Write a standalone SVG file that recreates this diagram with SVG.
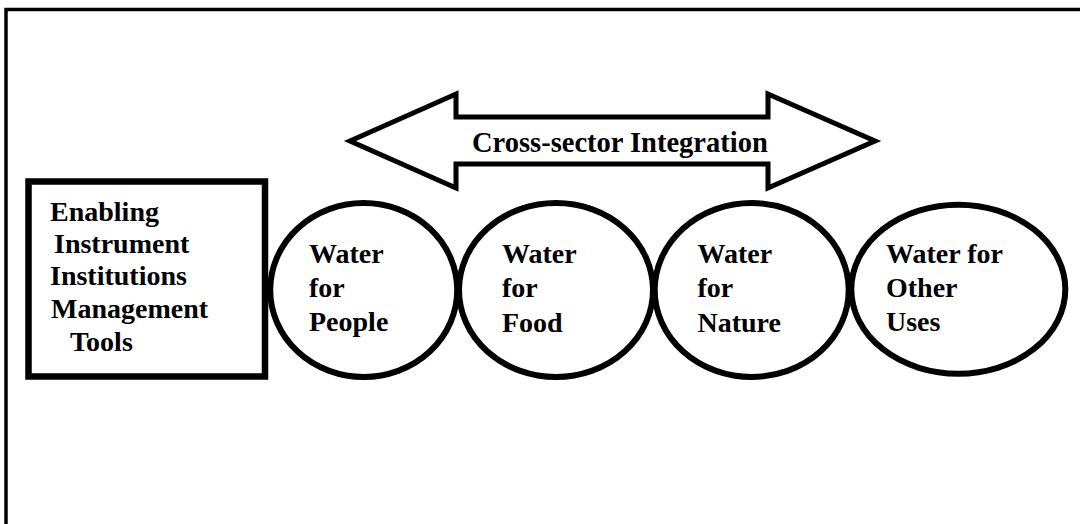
<svg xmlns="http://www.w3.org/2000/svg" width="1080" height="524" viewBox="0 0 1080 524">
<style>
text{font-family:"Liberation Serif","Times New Roman",serif;font-weight:bold;font-size:28px;fill:#000}
.ol{fill:#fff;stroke:#000}
.el{fill:#fff;stroke:#000;stroke-width:6}
</style>
<rect x="0" y="0" width="1080" height="524" fill="#fff"/>
<path d="M6,524 V9.5 H1080" fill="none" stroke="#000" stroke-width="3.5"/>
<g id="connectors">
<g id="cross-sector-arrow">
<polygon class="ol" stroke-width="5" stroke-linejoin="miter" points="350,141 456,94 456,117 768,117 768,94 875,141 768,188 768,164 456,164 456,188"/>
<text x="472" y="152" style="font-size:28.5px">Cross-sector Integration</text>
</g>
</g>
<g id="node-enabling">
<rect class="ol" x="28.5" y="181.5" width="236.5" height="195" stroke-width="6.5"/>
<text x="50" y="220.7">Enabling</text>
<text x="54" y="253.3">Instrument</text>
<text x="50" y="285">Institutions</text>
<text x="51" y="317.7">Management</text>
<text x="70" y="350.7">Tools</text>
</g>
<g id="node-people">
<ellipse class="el" cx="363.7" cy="290" rx="93.5" ry="87"/>
<text x="309" y="263.3">Water</text>
<text x="309" y="297.3">for</text>
<text x="309" y="331">People</text>
</g>
<g id="node-food">
<ellipse class="el" cx="556" cy="290" rx="97" ry="87"/>
<text x="502" y="263.3">Water</text>
<text x="502" y="297.3">for</text>
<text x="502" y="331.5">Food</text>
</g>
<g id="node-nature">
<ellipse class="el" cx="751.7" cy="290" rx="97" ry="87"/>
<text x="697.5" y="263.3">Water</text>
<text x="697.5" y="297.3">for</text>
<text x="697.5" y="331.5">Nature</text>
</g>
<g id="node-other">
<ellipse class="el" cx="958.3" cy="289.2" rx="107" ry="84.5"/>
<text x="886" y="263.3">Water for</text>
<text x="886" y="297">Other</text>
<text x="886" y="330.5">Uses</text>
</g>
</svg>
